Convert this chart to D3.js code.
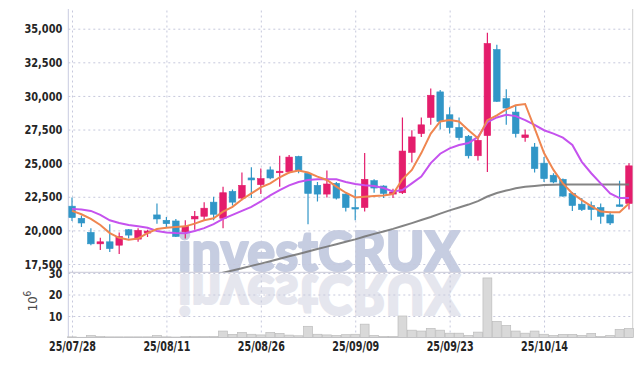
<!DOCTYPE html>
<html><head><meta charset="utf-8">
<script src="https://cdn.jsdelivr.net/npm/d3@7/dist/d3.min.js"></script>
<style>body{margin:0;background:#fff}svg{display:block}</style>
</head><body><svg id="c" width="642" height="366"></svg>
<script>
const dates = ["25/07/28","25/07/29","25/07/30","25/07/31","25/08/01","25/08/04","25/08/05","25/08/06","25/08/07","25/08/08",
"25/08/11","25/08/12","25/08/13","25/08/14","25/08/18","25/08/19","25/08/20","25/08/21","25/08/22","25/08/25",
"25/08/26","25/08/27","25/08/28","25/08/29","25/09/01","25/09/02","25/09/03","25/09/04","25/09/05","25/09/08",
"25/09/09","25/09/10","25/09/11","25/09/12","25/09/15","25/09/16","25/09/17","25/09/18","25/09/19","25/09/22",
"25/09/23","25/09/24","25/09/25","25/09/26","25/09/29","25/09/30","25/10/01","25/10/02","25/10/10","25/10/13",
"25/10/14","25/10/15","25/10/16","25/10/17","25/10/20","25/10/21","25/10/22","25/10/23","25/10/24","25/10/27"];
const open = [21800,20900,19850,19000,19150,18900,20050,19350,19800,21150,20750,20700,19900,20850,21050,22100,20900,22900,22400,23900,
23400,24500,24300,24350,25500,24250,23350,22700,23500,22700,21700,21700,23700,23300,22700,22800,25800,27200,28400,30300,
28600,27650,27000,25550,27050,33450,29800,28800,26900,26200,25000,24100,23800,22750,21950,21850,21700,21150,21900,22000];
const high = [22450,21100,20150,19450,20450,19850,20100,20150,20050,22000,21000,20850,20750,21450,22100,22500,23250,23050,24300,24700,
24600,24750,25550,25600,25550,24350,23600,24450,23600,22750,23050,25750,23800,23350,23100,28400,27450,28400,30550,30450,
29150,28400,27100,26950,34700,33800,30500,29300,27500,26500,25450,24250,23850,22850,22400,22150,22000,21400,23700,25000];
const low = [20700,20250,18900,18550,18400,18250,19400,19150,19500,20500,20200,19500,19400,20050,20750,20750,20150,21850,22250,22400,
22700,23800,23250,24250,24250,20450,22150,22450,22300,21400,20750,21400,22800,22400,22400,22700,25050,26950,27850,27500,
27200,26700,25350,25200,24350,29550,27850,26900,26600,24300,23600,23500,22500,21450,21450,20750,20500,20400,21750,21550];
const close = [20950,20550,19000,19150,18650,19550,19650,20000,19950,20850,20500,19550,20300,21050,21650,21200,22800,22100,23350,23750,
23850,23900,24400,25450,24450,22750,22700,23450,22400,21700,21600,23800,23150,22750,22850,25900,26950,27850,30050,28100,
27650,26900,25550,26700,33900,29600,29100,27200,27100,24600,23850,23600,22550,21850,21550,21550,21050,20550,21850,24800];
const ma5 = [21450,21200,20850,20400,19800,19450,19300,19400,19800,20100,20200,20250,20300,20500,20750,20900,21400,21750,22300,22750,
23200,23500,23950,24300,24450,24300,24000,23750,23250,22800,22450,22500,22550,22600,22700,23800,24500,25750,27200,28100,
28200,28100,27450,26850,28200,28550,29000,29300,29400,27600,25750,24500,23500,22750,22250,21800,21400,21350,21350,22000];
const ma20 = [21600,21550,21450,21150,20750,20550,20400,20300,20200,19950,19850,19800,19780,19950,20170,20470,20860,21150,21450,21750,
22150,22600,23000,23350,23600,23750,23800,23800,23800,23600,23450,23350,23300,23150,22900,23000,23500,24000,25000,25700,
26100,26350,26500,26950,28050,28400,28600,28500,28200,27850,27450,27200,26900,26350,25100,24250,23500,22750,22400,22400];
const ma60 = [null,null,null,null,null,null,null,null,null,null,null,null,null,null,null,16680,16850,17020,17190,17360,
17530,17710,17890,18070,18250,18430,18610,18790,18970,19150,19330,19540,19740,19920,20110,20320,20540,20770,21000,21250,
21490,21700,21920,22180,22520,22780,22960,23130,23240,23310,23370,23400,23420,23420,23420,23420,23420,23420,23420,23420];
const volume = [0.3,0.1,0.9,0.4,0.3,0.3,0.3,0.3,0.3,0.9,0.3,0.2,0.4,0.4,0.5,0.5,3.0,1.4,2.3,1.5,
1.2,2.3,1.9,1.1,0.8,5.2,1.5,1.2,0.9,1.3,1.5,6.2,0.9,0.5,0.5,10.0,3.4,3.0,4.2,3.4,
2.0,2.0,0.9,2.5,27.7,7.5,5.6,3.0,2.0,3.0,1.5,0.9,1.4,1.4,0.9,1.9,0.5,0.9,3.8,4.2];
const priceTicks = [17500,20000,22500,25000,27500,30000,32500,35000];
const volTicks = [10,20,30];
const dateTicks = ["25/07/28","25/08/11","25/08/26","25/09/09","25/09/23","25/10/14"];

const L = 68.3, R = 632.7, T = 9, MID = 272.3, B = 337.5;
const FONT = "'DejaVu Sans Condensed','DejaVu Sans',sans-serif";
const RED = "#e41d6c", BLUE = "#3196c7";

const svg = d3.select("#c");
const x = d3.scalePoint().domain(dates).range([72, 629]);
const y = d3.scaleLinear().domain([17500, 35000]).range([264, 28.7]);
const yv = d3.scaleLinear().domain([0, 30]).range([B, 273]);
const step = x.step();

const defs = svg.append("defs");
defs.append("clipPath").attr("id", "cp").append("rect")
  .attr("x", L).attr("y", T).attr("width", R - L).attr("height", MID - T);

// watermark
const wm = svg.append("g");
function wmText(fill, tr) {
  wm.append("text").text("investCRUX")
    .attr("x", 178).attr("y", 271)
    .attr("transform", tr)
    .attr("textLength", 282).attr("lengthAdjust", "spacingAndGlyphs")
    .style("font-family", "Lato, 'Open Sans', sans-serif").style("font-weight", 900)
    .style("font-size", "56px").attr("fill", fill)
    .attr("stroke", fill).attr("stroke-width", 2.2).attr("stroke-linejoin", "round");
}
wmText("#c6cde1", null);
wmText("#e5e6ee", "translate(0,546) scale(1,-1)");

// squeeze label text horizontally to a narrow look
function squeeze(sel, f) {
  sel.each(function () {
    const w = this.getComputedTextLength();
    d3.select(this).attr("textLength", w * f).attr("lengthAdjust", "spacingAndGlyphs");
  });
}
function styleGrid(g, size, f) {
  g.select(".domain").remove();
  g.selectAll(".tick line").attr("stroke", "#c6c8dc").attr("stroke-dasharray", "2,3");
  g.selectAll(".tick text").attr("fill", "#252525").style("font-family", FONT)
    .style("font-size", size + "px").style("font-weight", "bold");
  squeeze(g.selectAll(".tick text"), f);
}
svg.append("g").attr("transform", `translate(${L},0)`)
  .call(d3.axisLeft(y).tickValues(priceTicks).tickSize(-(R - L)).tickPadding(6).tickFormat(d3.format(",")))
  .call(styleGrid, 13, 0.84);
svg.append("g").attr("transform", `translate(${L},0)`)
  .call(d3.axisLeft(yv).tickValues(volTicks).tickSize(-(R - L)).tickPadding(6))
  .call(styleGrid, 13, 0.84);
svg.append("g").attr("transform", `translate(0,${B})`)
  .call(d3.axisBottom(x).tickValues(dateTicks).tickSize(-(B - T)).tickPadding(4))
  .call(styleGrid, 14, 0.76);

// frame
svg.append("line").attr("x1", L).attr("x2", L).attr("y1", T).attr("y2", B).attr("stroke", "#c9cbe0");
svg.append("line").attr("x1", R).attr("x2", R).attr("y1", T).attr("y2", B).attr("stroke", "#cfcfcf");
svg.append("line").attr("x1", L).attr("x2", R).attr("y1", MID).attr("y2", MID).attr("stroke", "#c9c9d6");
svg.append("line").attr("x1", L).attr("x2", R).attr("y1", B).attr("y2", B).attr("stroke", "#c9c9d6");

// volume label
const vl = svg.append("text").attr("transform", "translate(37,301) rotate(-90)")
  .attr("text-anchor", "middle").attr("fill", "#4a4a4a")
  .style("font-family", FONT).style("font-size", "13px");
vl.append("tspan").text("10");
vl.append("tspan").text("6").attr("dy", -6).style("font-size", "10px");

// volume bars
svg.append("g").selectAll("rect").data(volume).join("rect")
  .attr("x", (d, i) => x(dates[i]) - step / 2 + 0.3)
  .attr("width", step - 0.6)
  .attr("y", d => yv(d))
  .attr("height", d => B - yv(d))
  .attr("fill", "#d9d9d9").attr("stroke", "#bcbcbc").attr("stroke-width", 0.7);

// candles
const cg = svg.append("g").attr("clip-path", "url(#cp)");
const idx = d3.range(dates.length);
cg.selectAll("line.w").data(idx).join("line").attr("class", "w")
  .attr("x1", i => x(dates[i])).attr("x2", i => x(dates[i]))
  .attr("y1", i => y(high[i])).attr("y2", i => y(low[i]))
  .attr("stroke", i => close[i] >= open[i] ? RED : BLUE).attr("stroke-width", 1.2);
cg.selectAll("rect.b").data(idx).join("rect").attr("class", "b")
  .attr("x", i => x(dates[i]) - 3.3).attr("width", 6.6)
  .attr("y", i => y(Math.max(open[i], close[i])))
  .attr("height", i => Math.max(1.5, Math.abs(y(open[i]) - y(close[i]))))
  .attr("fill", i => close[i] >= open[i] ? RED : BLUE)
  .attr("stroke", i => close[i] >= open[i] ? RED : BLUE).attr("stroke-width", 0.6);

// moving averages
const line = d3.line().defined(d => d != null).x((d, i) => x(dates[i])).y(d => y(d));
cg.append("path").datum(ma60).attr("d", line).attr("fill", "none")
  .attr("stroke", "#777").attr("stroke-opacity", 0.9).attr("stroke-width", 2);
cg.append("path").datum(ma20).attr("d", line).attr("fill", "none")
  .attr("stroke", "#c552ee").attr("stroke-width", 2);
cg.append("path").datum(ma5).attr("d", line).attr("fill", "none")
  .attr("stroke", "#ef8650").attr("stroke-width", 2);
</script></body></html>
